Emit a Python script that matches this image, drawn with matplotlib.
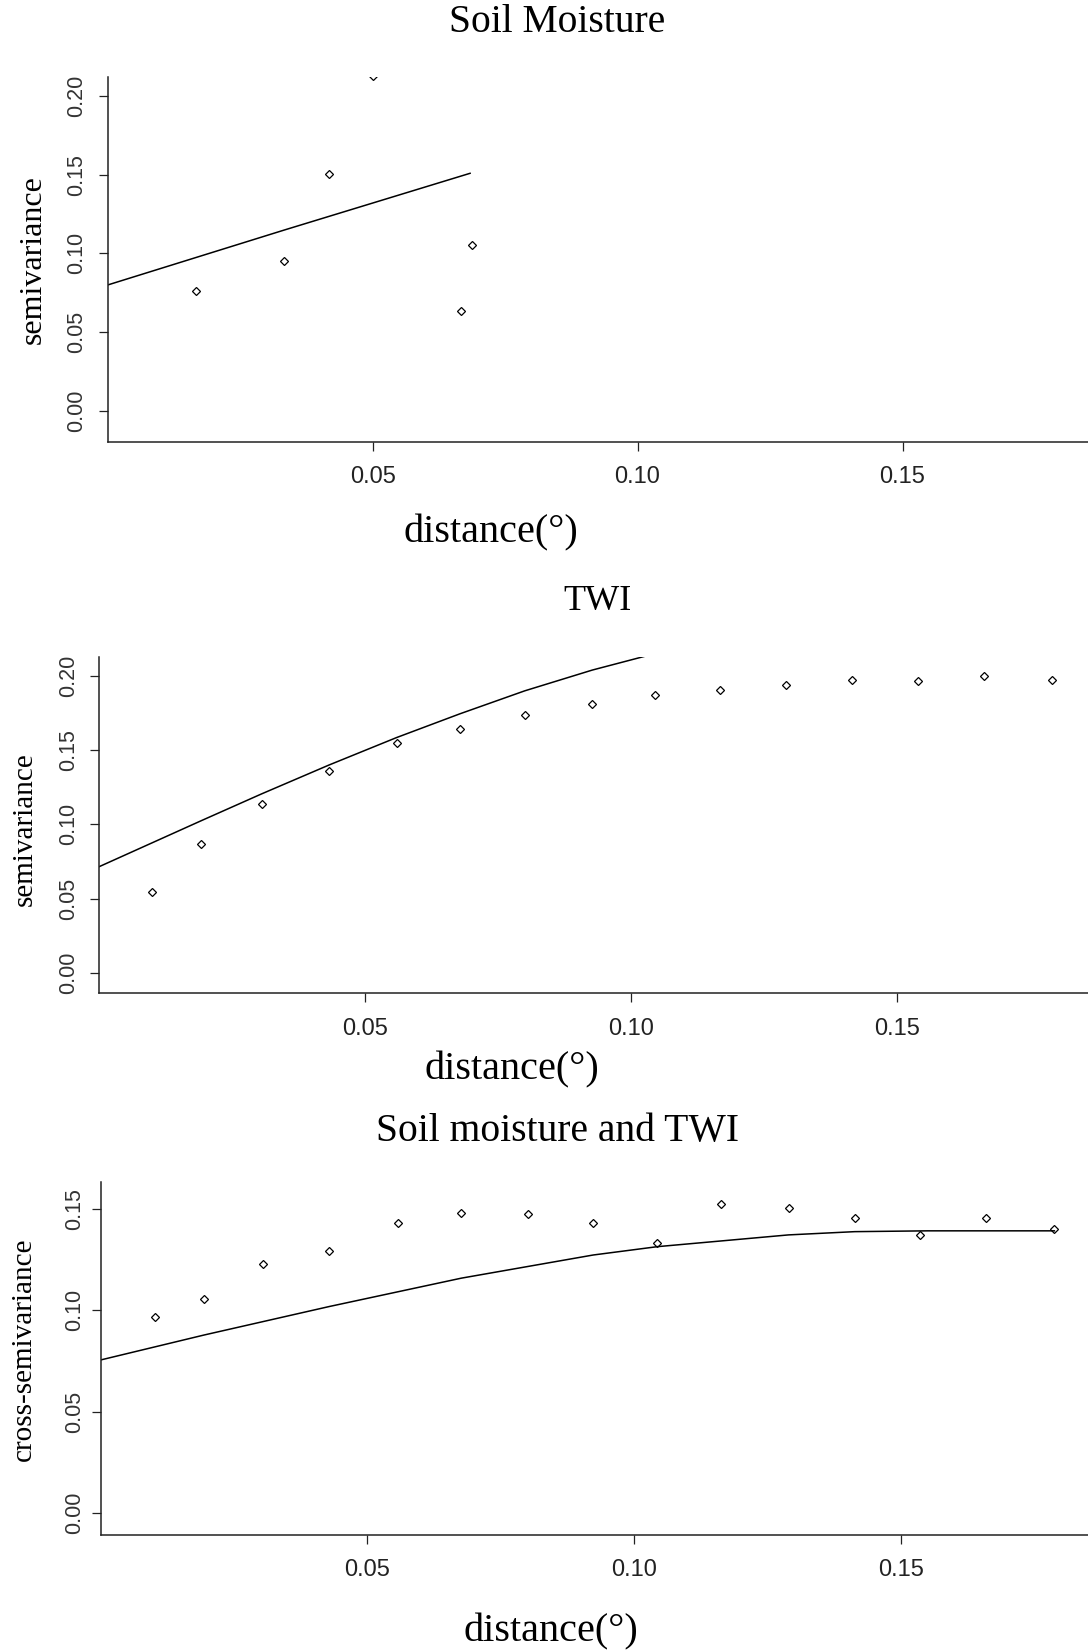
import matplotlib
matplotlib.use('Agg')
import matplotlib.pyplot as plt

# --- data ---
# Soil Moisture experimental semivariogram + fitted model
sm_dist = [0.0167, 0.0333, 0.0418, 0.0500, 0.0666, 0.0688]
sm_gamma = [0.0759, 0.0951, 0.1502, 0.2125, 0.0634, 0.1053]
sm_model_dist = [0.0, 0.0333, 0.0684]
sm_model_gamma = [0.0799, 0.1148, 0.1509]

# TWI experimental semivariogram + fitted model
twi_dist = [0.0099, 0.0192, 0.0305, 0.0432, 0.0559, 0.0678, 0.0800, 0.0927,
            0.1045, 0.1167, 0.1291, 0.1415, 0.1539, 0.1664, 0.1791]
twi_gamma = [0.0546, 0.0870, 0.1135, 0.1362, 0.1546, 0.1643, 0.1737, 0.1813,
             0.1872, 0.1908, 0.1937, 0.1973, 0.1966, 0.2002, 0.1973]
twi_model_dist = [0.0, 0.0192, 0.0305, 0.0432, 0.0559, 0.0678, 0.0800, 0.0927, 0.1028]
twi_model_gamma = [0.0715, 0.1025, 0.1205, 0.1400, 0.1585, 0.1745, 0.1900, 0.2040, 0.2135]

# cross semivariogram soil moisture / TWI + fitted model
cross_dist = [0.0102, 0.0194, 0.0305, 0.0428, 0.0557, 0.0676, 0.0801, 0.0923,
              0.1043, 0.1163, 0.1289, 0.1413, 0.1535, 0.1658, 0.1787]
cross_gamma = [0.0966, 0.1056, 0.1230, 0.1292, 0.1430, 0.1481, 0.1476, 0.1430,
               0.1330, 0.1525, 0.1504, 0.1453, 0.1369, 0.1453, 0.1402]
cross_model_dist = [0.0, 0.0194, 0.0428, 0.0676, 0.0923, 0.1043, 0.1289, 0.1413, 0.1550, 0.1787]
cross_model_gamma = [0.0755, 0.0878, 0.1018, 0.1158, 0.1272, 0.1313, 0.1371, 0.1387, 0.1391, 0.1391]

x_ticks = [0.05, 0.10, 0.15]
y_ticks_semi = [0.00, 0.05, 0.10, 0.15, 0.20]
y_ticks_cross = [0.00, 0.05, 0.10, 0.15]

W, H = 1088, 1650
SERIF = ['Liberation Serif', 'DejaVu Serif']
NARROW = ['Liberation Sans Narrow', 'Liberation Sans', 'DejaVu Sans']


def px_axes(fig, left, top, bottom, right=W):
    """Add an axes given its edges in pixels (origin top left)."""
    return fig.add_axes([left / W, 1 - bottom / H, (right - left) / W, (bottom - top) / H])


def px_text(fig, x, y, s, **kw):
    """Put a text at pixel position (origin top left)."""
    fig.text(x / W, 1 - y / H, s, ha='center', va='center', family=SERIF, **kw)


def draw_panel(ax, dist, gamma, mdist, mgamma, xlim, ylim, yticks, ypad):
    # R style plot: only left and bottom axis, outward ticks
    ax.plot(mdist, mgamma, color='black', lw=1.1)
    ax.plot(dist, gamma, linestyle='none', marker='D', ms=3.6, mfc='none',
            mec='black', mew=0.9)
    ax.set_xlim(*xlim)
    ax.set_ylim(*ylim)
    ax.set_xticks(x_ticks)
    ax.set_xticklabels([f'{t:.2f}' for t in x_ticks])
    ax.set_yticks(yticks)
    ax.set_yticklabels([f'{t:.2f}' for t in yticks], rotation=90, va='center')
    for side in ['top', 'right']:
        ax.spines[side].set_visible(False)
    for side in ['left', 'bottom']:
        ax.spines[side].set_linewidth(1.1)
        ax.spines[side].set_color('#222222')
    ax.tick_params(axis='both', direction='out', length=6.5, width=0.9, color='#222222')
    ax.tick_params(axis='x', pad=11)
    ax.tick_params(axis='y', pad=ypad)
    for lab in ax.get_xticklabels():
        lab.set_family(NARROW)
        lab.set_fontsize(17)
        lab.set_color('#222222')
    for lab in ax.get_yticklabels():
        lab.set_family(NARROW)
        lab.set_fontsize(15.5)
        lab.set_color('#333333')


fig = plt.figure(figsize=(W / 100, H / 100), dpi=100)
fig.patch.set_facecolor('white')

ax1 = px_axes(fig, 107.6, 76.7, 441.7)
draw_panel(ax1, sm_dist, sm_gamma, sm_model_dist, sm_model_gamma,
           (0, 0.185), (-0.0197, 0.2123), y_ticks_semi, 8)
ax2 = px_axes(fig, 99.3, 657.3, 993.3)
draw_panel(ax2, twi_dist, twi_gamma, twi_model_dist, twi_model_gamma,
           (0, 0.1859), (-0.0139, 0.2126), y_ticks_semi, 8)
ax3 = px_axes(fig, 100.6, 1181.7, 1535.0)
draw_panel(ax3, cross_dist, cross_gamma, cross_model_dist, cross_model_gamma,
           (0, 0.1850), (-0.0107, 0.1633), y_ticks_cross, 5)

# titles and axis labels, placed where they sit in the picture
px_text(fig, 557, 22, 'Soil Moisture', fontsize=28.5)
px_text(fig, 597, 602, 'TWI', fontsize=26)
px_text(fig, 558, 1132, 'Soil moisture and TWI', fontsize=28.5)

px_text(fig, 33, 260, 'semivariance', fontsize=23, rotation=90)
px_text(fig, 25, 829, 'semivariance', fontsize=21, rotation=90)
px_text(fig, 24, 1349, 'cross-semivariance', fontsize=21, rotation=90)

px_text(fig, 491, 533, 'distance(°)', fontsize=29)
px_text(fig, 512, 1070, 'distance(°)', fontsize=29)
px_text(fig, 551, 1632, 'distance(°)', fontsize=29)

fig.savefig('out.png', dpi=100)
